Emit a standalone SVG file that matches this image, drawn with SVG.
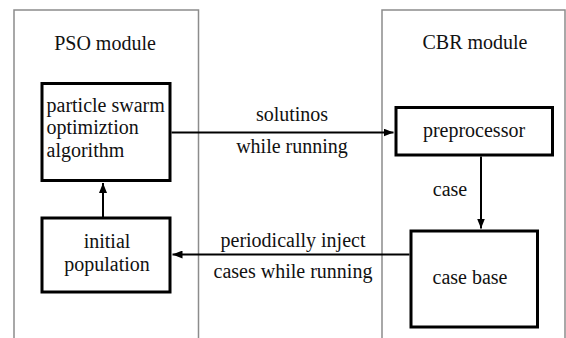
<svg xmlns="http://www.w3.org/2000/svg" width="566" height="338" viewBox="0 0 566 338">
<defs>
<style>
.mod{fill:none;stroke:#8c8c8c;stroke-width:1.5}
.box{fill:#fff;stroke:#000;stroke-width:3}
.t{font-size:20px;fill:#111}
.m{text-anchor:middle}
.c{fill:none;stroke:#000;stroke-width:2}
</style>
<marker id="ah" viewBox="0 0 10 8" refX="10" refY="4" markerWidth="5" markerHeight="4" orient="auto" markerUnits="strokeWidth">
<path d="M0,0 L10,4 L0,8 Z" fill="#000"/>
</marker>
</defs>
<rect width="566" height="338" fill="#fff"/>
<g font-family="'Liberation Serif', 'Times New Roman', 'DejaVu Serif', serif">
<g id="pso-module">
<path class="mod" d="M14,338 V10 H198.5 V338"/>
<text class="t m" x="105" y="50">PSO module</text>
</g>
<g id="cbr-module">
<path class="mod" d="M382,338 V10 H565 V338"/>
<text class="t m" x="475" y="49">CBR module</text>
</g>
<g id="pso">
<rect class="box" x="42" y="83.5" width="128" height="97"/>
<text class="t" x="46.5" y="112">particle swarm</text>
<text class="t" x="46.5" y="134">optimiztion</text>
<text class="t" x="46.5" y="157">algorithm</text>
</g>
<g id="initial">
<rect class="box" x="42" y="218" width="128" height="74"/>
<text class="t m" x="107" y="248">initial</text>
<text class="t m" x="107" y="271">population</text>
</g>
<g id="preprocessor">
<rect class="box" x="396" y="107.5" width="156.5" height="47.5"/>
<text class="t m" x="474" y="137">preprocessor</text>
</g>
<g id="casebase">
<rect class="box" x="411" y="231" width="126.5" height="96"/>
<text class="t m" x="470" y="284">case base</text>
</g>
<g id="connectors">
<line class="c" x1="103" y1="218" x2="103" y2="183" marker-end="url(#ah)"/>
<line class="c" x1="171.5" y1="132.5" x2="393.5" y2="132.5" marker-end="url(#ah)"/>
<line class="c" x1="481" y1="156.5" x2="481" y2="228.5" marker-end="url(#ah)"/>
<line class="c" x1="409.5" y1="254.5" x2="172.5" y2="254.5" marker-end="url(#ah)"/>
<text class="t m" x="292" y="121">solutinos</text>
<text class="t m" x="292" y="153">while running</text>
<text class="t m" x="450" y="196">case</text>
<text class="t m" x="293" y="247">periodically inject</text>
<text class="t m" x="293" y="278">cases while running</text>
</g>
</g>
</svg>
